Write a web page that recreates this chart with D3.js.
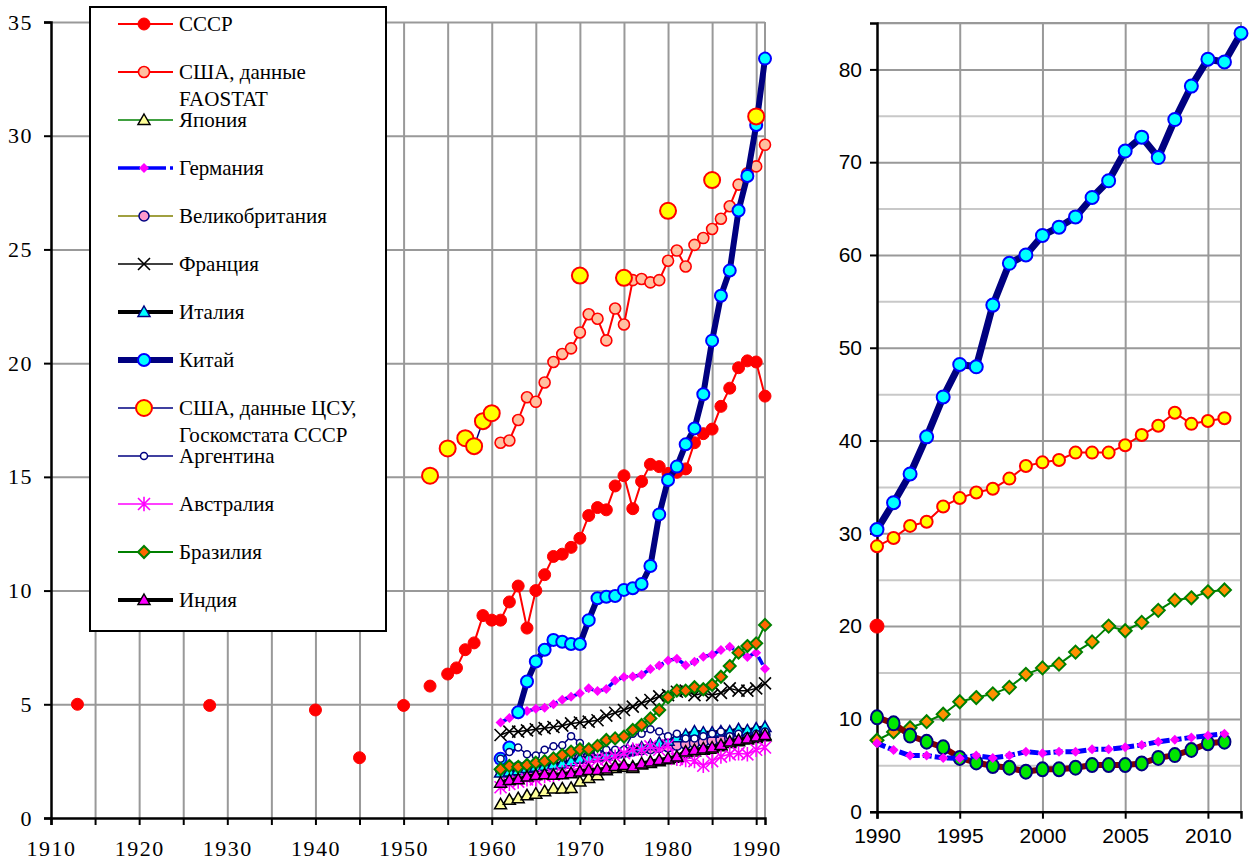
<!DOCTYPE html>
<html>
<head>
<meta charset="utf-8">
<script src="https://cdn.jsdelivr.net/npm/d3@7"></script>
<style>
  body { margin: 0; background: #fff; }
  svg { display: block; }
</style>
</head>
<body>
<div id="chart"></div>
<script>
// ---- left panel data (1910-1991) ----
const ussrYears = [1913, 1928, 1940, 1945, 1950, 1953, 1955, 1956, 1957, 1958, 1959, 1960, 1961, 1962, 1963, 1964, 1965, 1966, 1967, 1968, 1969, 1970, 1971, 1972, 1973, 1974, 1975, 1976, 1977, 1978, 1979, 1980, 1981, 1982, 1983, 1984, 1985, 1986, 1987, 1988, 1989, 1990, 1991]
const ussrValues = [5.0, 4.95, 4.75, 2.65, 4.95, 5.8, 6.33, 6.6, 7.4, 7.7, 8.9, 8.7, 8.7, 9.5, 10.2, 8.35, 10.0, 10.7, 11.5, 11.6, 11.9, 12.3, 13.3, 13.65, 13.55, 14.6, 15.05, 13.6, 14.8, 15.55, 15.45, 15.15, 15.2, 15.35, 16.5, 16.9, 17.1, 18.1, 18.9, 19.8, 20.1, 20.05, 18.55]

const years61 = d3.range(1961, 1992)   // 1961..1991

const usaFaoValues = [16.5, 16.6, 17.5, 18.5, 18.3, 19.15, 20.05, 20.4, 20.65, 21.35, 22.15, 21.95, 21.0, 22.4, 21.7, 23.65, 23.7, 23.55, 23.65, 24.5, 24.95, 24.25, 25.2, 25.5, 25.9, 26.35, 26.9, 27.85, 28.35, 28.65, 29.6]
const japanValues = [0.6, 0.8, 0.87, 1.0, 1.07, 1.18, 1.3, 1.3, 1.32, 1.6, 1.76, 1.88, 2.1, 2.2, 2.25, 2.2, 2.35, 2.42, 2.5, 2.58, 2.65, 2.85, 2.92, 3.0, 3.05, 3.15, 3.3, 3.38, 3.45, 3.52, 3.6]
const germanyValues = [4.2, 4.4, 4.55, 4.7, 4.8, 4.85, 5.0, 5.2, 5.33, 5.48, 5.7, 5.58, 5.67, 6.05, 6.2, 6.22, 6.3, 6.55, 6.7, 6.93, 7.0, 6.72, 6.87, 7.09, 7.18, 7.39, 7.53, 7.3, 7.08, 7.27, 6.56]
const ukValues = [2.1, 2.18, 2.25, 2.3, 2.35, 2.4, 2.45, 2.5, 2.6, 2.65, 2.7, 2.75, 2.8, 2.85, 2.9, 2.95, 3.0, 3.05, 3.1, 3.13, 3.2, 3.25, 3.3, 3.35, 3.4, 3.45, 3.5, 3.5, 3.55, 3.6, 3.65]
const franceValues = [3.65, 3.8, 3.8, 3.85, 3.9, 3.95, 4.0, 4.06, 4.16, 4.2, 4.24, 4.3, 4.5, 4.63, 4.75, 4.9, 5.05, 5.19, 5.35, 5.4, 5.55, 5.6, 5.4, 5.5, 5.4, 5.5, 5.7, 5.6, 5.6, 5.7, 5.92]
const italyValues = [2.0, 2.05, 2.1, 2.2, 2.25, 2.3, 2.35, 2.4, 2.5, 2.6, 2.65, 2.7, 2.75, 2.85, 2.9, 3.0, 3.1, 3.2, 3.3, 3.4, 3.55, 3.65, 3.8, 3.75, 3.75, 3.8, 3.8, 3.9, 3.85, 3.93, 4.0]
const chinaYears = [1961, 1962, 1963, 1964, 1965, 1966, 1967, 1968, 1969, 1970, 1971, 1972, 1973, 1974, 1975, 1976, 1977, 1978, 1979, 1980, 1981, 1982, 1983, 1984, 1985, 1986, 1987, 1988, 1989, 1990, 1991]
const chinaValues = [2.6, 3.1, 4.65, 6.0, 6.88, 7.4, 7.83, 7.75, 7.65, 7.65, 8.7, 9.66, 9.73, 9.76, 10.03, 10.1, 10.29, 11.08, 13.35, 14.86, 15.45, 16.43, 17.13, 18.63, 20.99, 22.96, 24.07, 26.71, 28.23, 30.47, 33.39]
const chinaLineFrom = 1963
const usaCsuYears = [1953, 1955, 1957, 1958, 1959, 1960, 1970, 1975, 1980, 1985, 1990]
const usaCsuValues = [15.05, 16.25, 16.7, 16.35, 17.45, 17.8, 23.85, 23.75, 26.7, 28.05, 30.85]
const argentinaValues = [2.6, 2.9, 3.1, 2.8, 2.75, 3.0, 3.15, 3.2, 3.6, 3.3, 2.9, 2.9, 3.0, 3.0, 3.0, 3.7, 3.7, 3.9, 3.8, 3.6, 3.7, 3.5, 3.5, 3.6, 3.7, 3.8, 3.6, 3.7, 3.6, 3.7, 3.8]
const australiaValues = [1.35, 1.5, 1.6, 1.7, 1.7, 1.85, 1.9, 2.0, 2.1, 2.2, 2.4, 2.55, 2.6, 2.7, 2.85, 3.0, 3.0, 3.15, 3.0, 3.2, 2.6, 2.55, 2.5, 2.3, 2.5, 2.7, 2.8, 2.85, 2.8, 3.0, 3.1]
const brazilValues = [2.14, 2.29, 2.25, 2.33, 2.43, 2.5, 2.62, 2.77, 2.92, 3.02, 3.02, 3.17, 3.43, 3.5, 3.58, 3.87, 4.09, 4.38, 4.75, 5.31, 5.6, 5.6, 5.75, 5.66, 5.85, 6.21, 6.68, 7.27, 7.56, 7.68, 8.49]
const indiaValues = [1.55, 1.67, 1.7, 1.82, 1.89, 1.92, 1.9, 1.92, 1.97, 2.04, 2.11, 2.11, 2.18, 2.29, 2.33, 2.26, 2.4, 2.48, 2.55, 2.62, 2.7, 2.92, 2.99, 3.06, 3.1, 3.21, 3.36, 3.43, 3.5, 3.58, 3.65]

const leftYTicks = d3.range(0, 36, 5)

// ---- right panel data (1990-2012) ----
const years90 = d3.range(1990, 2012)   // 1990..2011
const chinaRYears = d3.range(1990, 2013)
const chinaRValues = [30.4, 33.3, 36.4, 40.4, 44.7, 48.2, 47.95, 54.6, 59.1, 60.0, 62.1, 63.0, 64.1, 66.2, 68.0, 71.2, 72.7, 70.5, 74.6, 78.2, 81.1, 80.8, 83.9]
const usaRValues = [28.6, 29.5, 30.8, 31.25, 32.9, 33.8, 34.4, 34.8, 35.9, 37.25, 37.65, 37.9, 38.7, 38.7, 38.7, 39.5, 40.6, 41.6, 43.0, 41.8, 42.1, 42.4]
const brazilRValues = [7.7, 8.6, 9.05, 9.7, 10.5, 11.85, 12.3, 12.7, 13.4, 14.8, 15.5, 15.9, 17.2, 18.3, 20.0, 19.5, 20.4, 21.7, 22.8, 23.05, 23.7, 23.9]
const germanyRValues = [7.37, 6.65, 6.05, 6.05, 5.8, 5.75, 6.05, 5.8, 6.05, 6.47, 6.3, 6.47, 6.47, 6.72, 6.72, 6.94, 7.19, 7.54, 7.76, 8.0, 8.2, 8.4]
const russiaRValues = [10.17, 9.52, 8.2, 7.54, 6.94, 5.8, 5.3, 4.92, 4.74, 4.31, 4.57, 4.57, 4.74, 5.03, 5.03, 5.03, 5.2, 5.8, 6.1, 6.65, 7.37, 7.54]
const ussrRYears = [1990]
const ussrRValues = [20.0]

const rightYTicks = d3.range(0, 81, 10)
const rightYMinor = d3.range(5, 86, 10)
const rightXTicks = d3.range(1990, 2011, 5)

// ---- styles ----
const leftSeries = [
  {name: ["СССР"], years: ussrYears, values: ussrValues, line: {c: "#ff0000", w: 2}, m: {t: "circle", r: 6, f: "#ff0000", s: "#ff0000", sw: 1}},
  {name: ["США, данные", "FAOSTAT"], years: years61, values: usaFaoValues, line: {c: "#ff0000", w: 2}, m: {t: "circle", r: 5.5, f: "#ffc0a0", s: "#ff0000", sw: 1.6}},
  {name: ["Япония"], years: years61, values: japanValues, line: {c: "#008000", w: 1.5}, m: {t: "triangle", r: 6, f: "#ffff99", s: "#000000", sw: 1.5}},
  {name: ["Германия"], years: years61, values: germanyValues, line: {c: "#0000ff", w: 3.5, dash: "9,4"}, m: {t: "diamond", r: 5, f: "#ff00ff", s: "none", sw: 0}},
  {name: ["Великобритания"], years: years61, values: ukValues, line: {c: "#808000", w: 1.5}, m: {t: "circle", r: 5, f: "#ff99cc", s: "#000080", sw: 1.5}},
  {name: ["Франция"], years: years61, values: franceValues, line: {c: "#000000", w: 1.5}, m: {t: "x", r: 6, f: "none", s: "#000000", sw: 1.6}},
  {name: ["Италия"], years: years61, values: italyValues, line: {c: "#000000", w: 4}, m: {t: "triangle", r: 6, f: "#00ffff", s: "#000080", sw: 1.5}},
  {name: ["Китай"], years: chinaYears, values: chinaValues, lineFrom: chinaLineFrom, line: {c: "#000080", w: 6}, m: {t: "circle", r: 6, f: "#00ffff", s: "#0000ff", sw: 2}},
  {name: ["США, данные ЦСУ,", "Госкомстата СССР"], years: usaCsuYears, values: usaCsuValues, line: {c: "#000080", w: 1.5}, m: {t: "circle", r: 8, f: "#ffff00", s: "#ff0000", sw: 2}},
  {name: ["Аргентина"], years: years61, values: argentinaValues, line: {c: "#000080", w: 1.5}, m: {t: "circle", r: 3.5, f: "#ffffff", s: "#000080", sw: 1.5}},
  {name: ["Австралия"], years: years61, values: australiaValues, line: {c: "#ff00ff", w: 1.5}, m: {t: "asterisk", r: 6, f: "none", s: "#ff00ff", sw: 1.6}},
  {name: ["Бразилия"], years: years61, values: brazilValues, line: {c: "#008000", w: 2}, m: {t: "diamond", r: 6, f: "#ff6600", s: "#008000", sw: 2}},
  {name: ["Индия"], years: years61, values: indiaValues, line: {c: "#000000", w: 4}, m: {t: "triangle", r: 6, f: "#ff00ff", s: "#000000", sw: 1.5}}
]

const rightSeries = [
  {years: years90, values: brazilRValues, line: {c: "#008000", w: 2}, m: {t: "diamond", r: 6.5, f: "#ff9000", s: "#008000", sw: 2}},
  {years: years90, values: russiaRValues, line: {c: "#800000", w: 6}, m: {t: "ellipse", r: 6, f: "#00e600", s: "#000080", sw: 2}},
  {years: years90, values: germanyRValues, line: {c: "#0000ff", w: 5, dash: "9,3"}, m: {t: "diamond", r: 5, f: "#ff00ff", s: "none", sw: 0}},
  {years: years90, values: usaRValues, line: {c: "#ff0000", w: 2}, m: {t: "circle", r: 6, f: "#ffff00", s: "#ff0000", sw: 2}},
  {years: chinaRYears, values: chinaRValues, line: {c: "#000080", w: 7}, m: {t: "circle", r: 6.5, f: "#00ffff", s: "#0000ff", sw: 2}},
  {years: ussrRYears, values: ussrRValues, line: {c: "#ff0000", w: 2}, m: {t: "circle", r: 7, f: "#ff0000", s: "#ff0000", sw: 1}}
]

const serif = "'Liberation Serif', 'Times New Roman', 'DejaVu Serif', serif"
const sans = "'Liberation Sans', Arial, sans-serif"

const W = 1250, H = 865
const svg = d3.select("#chart").append("svg")
  .attr("width", W).attr("height", H)

// split a series into runs of consecutive years
function segments(years, values, from) {
  const segs = []
  let cur = []
  years.forEach((yr, i) => {
    if (from !== undefined && yr < from) return
    if (cur.length && yr - cur[cur.length - 1][0] > 1) { segs.push(cur); cur = [] }
    cur.push([yr, values[i]])
  })
  if (cur.length) segs.push(cur)
  return segs.filter(s => s.length > 1)
}

function drawMarker(g, m, cx, cy) {
  const r = m.r
  if (m.t === "circle") {
    g.append("circle").attr("cx", cx).attr("cy", cy).attr("r", r)
      .attr("fill", m.f).attr("stroke", m.s).attr("stroke-width", m.sw)
  } else if (m.t === "ellipse") {
    g.append("ellipse").attr("cx", cx).attr("cy", cy).attr("rx", r).attr("ry", r + 1)
      .attr("fill", m.f).attr("stroke", m.s).attr("stroke-width", m.sw)
  } else if (m.t === "triangle") {
    const p = d3.path()
    p.moveTo(cx, cy - r); p.lineTo(cx + r, cy + r * 0.75); p.lineTo(cx - r, cy + r * 0.75); p.closePath()
    g.append("path").attr("d", p.toString())
      .attr("fill", m.f).attr("stroke", m.s).attr("stroke-width", m.sw)
  } else if (m.t === "diamond") {
    const p = d3.path()
    p.moveTo(cx, cy - r); p.lineTo(cx + r, cy); p.lineTo(cx, cy + r); p.lineTo(cx - r, cy); p.closePath()
    g.append("path").attr("d", p.toString())
      .attr("fill", m.f).attr("stroke", m.s).attr("stroke-width", m.sw)
  } else if (m.t === "x" || m.t === "asterisk") {
    const p = d3.path()
    p.moveTo(cx - r, cy - r); p.lineTo(cx + r, cy + r)
    p.moveTo(cx - r, cy + r); p.lineTo(cx + r, cy - r)
    if (m.t === "asterisk") { p.moveTo(cx, cy - r * 1.2); p.lineTo(cx, cy + r * 1.2) }
    g.append("path").attr("d", p.toString())
      .attr("fill", "none").attr("stroke", m.s).attr("stroke-width", m.sw)
  }
}

function drawSeries(g, s, x, y) {
  const line = d3.line().x(d => x(d[0])).y(d => y(d[1]))
  segments(s.years, s.values, s.lineFrom).forEach(seg => {
    g.append("path").datum(seg)
      .attr("fill", "none")
      .attr("stroke", s.line.c)
      .attr("stroke-width", s.line.w)
      .attr("stroke-dasharray", s.line.dash || null)
      .attr("stroke-linejoin", "round")
      .attr("d", line)
  })
  s.years.forEach((yr, i) => drawMarker(g, s.m, x(yr), y(s.values[i])))
}

// ================= LEFT PANEL =================
const xL = d3.scaleLinear().domain([1910, 1991]).range([51, 765])
const yL = d3.scaleLinear().domain([0, 35]).range([818, 22])
const left = svg.append("g")

// grid
left.append("g")
  .attr("transform", "translate(0,818)")
  .call(d3.axisBottom(xL).tickValues(d3.range(1915, 1991, 5)).tickSize(-(818 - 22)).tickFormat(""))
  .call(g => g.select(".domain").remove())
  .call(g => g.selectAll("line").attr("stroke", "#999").attr("stroke-width", 2))
left.append("g")
  .attr("transform", "translate(51,0)")
  .call(d3.axisLeft(yL).tickValues(d3.range(5, 36, 5)).tickSize(-(765 - 51)).tickFormat(""))
  .call(g => g.select(".domain").remove())
  .call(g => g.selectAll("line").attr("stroke", "#999").attr("stroke-width", 2))
left.append("line").attr("x1", xL(1991)).attr("x2", xL(1991)).attr("y1", yL(35)).attr("y2", yL(0))
  .attr("stroke", "#999").attr("stroke-width", 2)

// axes
left.append("g")
  .attr("transform", "translate(51,0)")
  .call(d3.axisLeft(yL).tickValues(leftYTicks).tickSize(7).tickPadding(11))
  .attr("font-family", serif)
  .call(g => g.select(".domain").attr("stroke", "#000").attr("stroke-width", 2.5))
  .call(g => g.selectAll("line").attr("stroke", "#000").attr("stroke-width", 2))
  .call(g => g.selectAll("text").attr("font-size", 22).attr("letter-spacing", 1.5).attr("fill", "#000"))
left.append("g")
  .attr("transform", "translate(0,818)")
  .call(d3.axisBottom(xL).tickValues(d3.range(1910, 1991, 5)).tickSize(7).tickFormat(d => d % 10 === 0 ? d : ""))
  .attr("font-family", serif)
  .call(g => g.select(".domain").attr("stroke", "#000").attr("stroke-width", 2.5))
  .call(g => g.selectAll("line").attr("stroke", "#000").attr("stroke-width", 2))
  .call(g => g.selectAll("text").attr("y", 38).attr("dy", 0).attr("font-size", 22).attr("letter-spacing", 1.5).attr("fill", "#000"))

const plotL = left.append("g")
leftSeries.forEach(s => drawSeries(plotL.append("g"), s, xL, yL))

// legend
const leg = left.append("g").attr("font-family", serif)
leg.append("rect").attr("x", 90).attr("y", 7).attr("width", 296).attr("height", 624)
  .attr("fill", "#fff").attr("stroke", "#000").attr("stroke-width", 2)
leftSeries.forEach((s, i) => {
  const cy = 24 + i * 48
  const g = leg.append("g")
  g.append("line").attr("x1", 118).attr("x2", 173).attr("y1", cy).attr("y2", cy)
    .attr("stroke", s.line.c).attr("stroke-width", s.line.w)
    .attr("stroke-dasharray", s.line.dash ? "22,4" : null)
  drawMarker(g, s.m, 144, cy)
  s.name.forEach((t, j) => {
    g.append("text").attr("x", 179).attr("y", cy + j * 27).attr("dy", "0.35em")
      .attr("font-size", 21).attr("fill", "#000").text(t)
  })
})

// ================= RIGHT PANEL =================
const xR = d3.scaleLinear().domain([1990, 2012]).range([877, 1241])
const yR = d3.scaleLinear().domain([0, 85]).range([811.7, 23])
const right = svg.append("g")

right.append("g")
  .attr("transform", "translate(877,0)")
  .call(d3.axisLeft(yR).tickValues(rightYMinor).tickSize(-(1241 - 877)).tickFormat(""))
  .call(g => g.select(".domain").remove())
  .call(g => g.selectAll("line").attr("stroke", "#c8c8c8").attr("stroke-width", 2))
right.append("g")
  .attr("transform", "translate(877,0)")
  .call(d3.axisLeft(yR).tickValues(d3.range(10, 81, 10)).tickSize(-(1241 - 877)).tickFormat(""))
  .call(g => g.select(".domain").remove())
  .call(g => g.selectAll("line").attr("stroke", "#999").attr("stroke-width", 2))
right.append("g")
  .attr("transform", "translate(0,811.7)")
  .call(d3.axisBottom(xR).tickValues(d3.range(1995, 2011, 5)).tickSize(-(811.7 - 23)).tickFormat(""))
  .call(g => g.select(".domain").remove())
  .call(g => g.selectAll("line").attr("stroke", "#999").attr("stroke-width", 2))
right.append("path")
  .attr("d", `M877,${yR(85)}H1241V${yR(0)}`)
  .attr("fill", "none").attr("stroke", "#999").attr("stroke-width", 2)

right.append("g")
  .attr("transform", "translate(877,0)")
  .call(d3.axisLeft(yR).tickValues(rightYTicks).tickSize(7).tickPadding(8))
  .attr("font-family", sans)
  .call(g => g.select(".domain").attr("stroke", "#000").attr("stroke-width", 2.5))
  .call(g => g.selectAll("line").attr("stroke", "#000").attr("stroke-width", 2))
  .call(g => g.selectAll("text").attr("font-size", 21).attr("fill", "#000"))
right.append("g")
  .attr("transform", "translate(0,811.7)")
  .call(d3.axisBottom(xR).tickValues(rightXTicks).tickSize(7).tickFormat(d3.format("d")))
  .attr("font-family", sans)
  .call(g => g.select(".domain").attr("stroke", "#000").attr("stroke-width", 2.5))
  .call(g => g.selectAll("line").attr("stroke", "#000").attr("stroke-width", 2))
  .call(g => g.selectAll("text").attr("y", 31).attr("dy", 0).attr("font-size", 21).attr("fill", "#000"))

const plotR = right.append("g")
rightSeries.forEach(s => drawSeries(plotR.append("g"), s, xR, yR))
</script>
</body>
</html>
